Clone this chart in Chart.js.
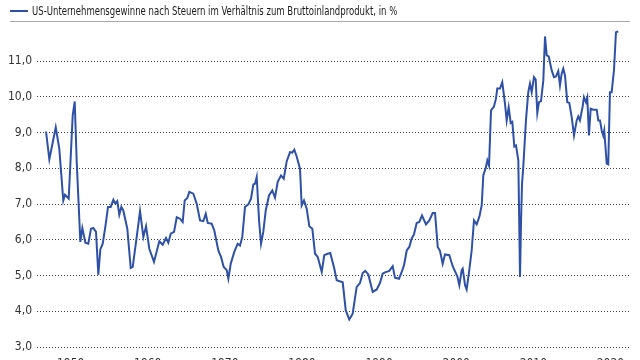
<!DOCTYPE html>
<html>
<head>
<meta charset="utf-8">
<script src="https://cdn.jsdelivr.net/npm/chart.js@4/dist/chart.umd.min.js"></script>
<style>
  html, body { margin: 0; padding: 0; background: #fff; overflow: hidden; }
  #wrap { position: relative; width: 640px; height: 372px; }
  #legend { position: absolute; left: 10px; top: 4px; font: 12px "Liberation Sans Narrow", "DejaVu Sans Condensed", sans-serif; color: #1a1a1a; white-space: nowrap; }
  #legend .swatch { display: inline-block; width: 18px; height: 2px; background: #2e51a6; vertical-align: middle; margin-right: 4px; position: relative; top: -1px; }
  #legend .text { display: inline-block; transform: scaleX(0.79); transform-origin: left center; }
  #rule { position: absolute; left: 10px; right: 10px; top: 21px; height: 1px; background: #a8a8a8; }
</style>
</head>
<body>
<div id="wrap">
  <canvas id="profitChart" width="640" height="372"></canvas>
  <div id="legend"><span class="swatch"></span><span class="text">US-Unternehmensgewinne nach Steuern im Verhältnis zum Bruttoinlandprodukt, in %</span></div>
  <div id="rule"></div>
</div>
<script>
var seriesLabel = 'US-Unternehmensgewinne nach Steuern im Verhältnis zum Bruttoinlandprodukt, in %';

var years = [
  1946.81, 1947.24, 1948.07, 1948.53, 1949.05, 1949.27, 1949.75, 1950.27, 1950.53, 1950.79,
  1951.26, 1951.52, 1951.91, 1952.29, 1952.64, 1952.94, 1953.29, 1953.59, 1953.85, 1954.16,
  1954.50, 1954.85, 1955.20, 1955.54, 1955.80, 1956.05, 1956.31, 1956.57, 1956.83, 1957.35,
  1957.79, 1958.05, 1958.57, 1959.00, 1959.43, 1959.78, 1960.20, 1960.81, 1961.50, 1961.94,
  1962.37, 1962.67, 1962.98, 1963.41, 1963.76, 1964.18, 1964.53, 1964.79, 1965.13, 1965.39,
  1965.91, 1966.35, 1966.78, 1967.20, 1967.52, 1967.78, 1968.29, 1968.63, 1969.15, 1969.50,
  1969.85, 1970.24, 1970.45, 1970.76, 1971.22, 1971.66, 1971.96, 1972.26, 1972.61, 1973.04,
  1973.39, 1973.69, 1973.91, 1974.13, 1974.43, 1974.69, 1974.98, 1975.30, 1975.72, 1976.15,
  1976.50, 1976.85, 1977.28, 1977.63, 1978.02, 1978.45, 1978.74, 1979.00, 1979.31, 1979.74,
  1979.96, 1980.26, 1980.61, 1980.95, 1981.34, 1981.69, 1982.04, 1982.56, 1982.89, 1983.33,
  1983.67, 1984.19, 1984.50, 1985.28, 1985.67, 1986.13, 1986.57, 1987.09, 1987.52, 1987.87,
  1988.21, 1988.60, 1989.17, 1989.69, 1990.11, 1990.46, 1990.76, 1991.32, 1991.76, 1992.06,
  1992.58, 1992.93, 1993.23, 1993.58, 1993.91, 1994.22, 1994.52, 1994.87, 1995.21, 1995.56,
  1996.08, 1996.51, 1996.95, 1997.25, 1997.60, 1997.89, 1998.24, 1998.54, 1999.10, 1999.54,
  2000.14, 2000.40, 2000.71, 2000.84, 2001.14, 2001.35, 2001.69, 2002.00, 2002.30, 2002.65,
  2002.99, 2003.30, 2003.51, 2003.86, 2004.03, 2004.25, 2004.51, 2004.89, 2005.15, 2005.32,
  2005.67, 2005.97, 2006.32, 2006.54, 2006.80, 2007.06, 2007.27, 2007.53, 2007.75, 2008.05,
  2008.27, 2008.40, 2008.53, 2008.69, 2009.04, 2009.34, 2009.56, 2009.78, 2010.08, 2010.30,
  2010.51, 2010.73, 2010.99, 2011.29, 2011.51, 2011.73, 2011.99, 2012.38, 2012.67, 2012.93,
  2013.23, 2013.45, 2013.67, 2013.88, 2014.10, 2014.40, 2014.66, 2014.97, 2015.27, 2015.62,
  2015.82, 2016.04, 2016.39, 2016.56, 2016.82, 2016.99, 2017.21, 2017.43, 2017.77, 2018.21,
  2018.42, 2018.64, 2018.86, 2019.06, 2019.19, 2019.51, 2019.71, 2019.93, 2020.15, 2020.45,
  2020.71, 2021.01
];

var profitShare = [
  9.03, 8.25, 9.15, 8.55, 7.10, 7.26, 7.15, 9.48, 9.87, 8.18,
  5.94, 6.33, 5.92, 5.89, 6.31, 6.33, 6.22, 5.02, 5.73, 5.89,
  6.36, 6.92, 6.92, 7.12, 7.01, 7.08, 6.70, 6.92, 6.82, 6.31,
  5.21, 5.24, 6.08, 6.80, 6.08, 6.38, 5.75, 5.38, 5.96, 5.86,
  6.05, 5.92, 6.17, 6.22, 6.63, 6.59, 6.50, 7.10, 7.17, 7.34,
  7.29, 7.01, 6.54, 6.52, 6.73, 6.47, 6.45, 6.26, 5.70, 5.52,
  5.24, 5.15, 4.91, 5.33, 5.66, 5.89, 5.84, 6.08, 6.92, 6.99,
  7.15, 7.55, 7.57, 7.76, 6.54, 5.89, 6.22, 6.82, 7.24, 7.38,
  7.18, 7.62, 7.80, 7.71, 8.20, 8.45, 8.44, 8.52, 8.33, 7.99,
  6.96, 7.10, 6.87, 6.38, 6.31, 5.61, 5.52, 5.10, 5.57, 5.61,
  5.63, 5.19, 4.87, 4.81, 4.03, 3.77, 3.93, 4.68, 4.79, 5.07,
  5.13, 5.03, 4.54, 4.61, 4.79, 5.05, 5.09, 5.13, 5.26, 4.94,
  4.91, 5.10, 5.29, 5.70, 5.80, 6.03, 6.15, 6.47, 6.50, 6.68,
  6.43, 6.54, 6.75, 6.75, 5.80, 5.69, 5.33, 5.59, 5.57, 5.26,
  4.98, 4.73, 5.15, 5.19, 4.73, 4.61, 5.15, 5.70, 6.54, 6.43,
  6.64, 6.96, 7.80, 8.04, 8.22, 8.08, 9.62, 9.73, 9.95, 10.23,
  10.23, 10.41, 9.81, 9.34, 9.71, 9.27, 9.30, 8.61, 8.64, 8.22,
  4.96, 6.50, 7.57, 8.04, 9.34, 10.13, 10.37, 10.13, 10.55, 10.48,
  9.55, 9.85, 9.88, 10.46, 11.69, 11.16, 11.13, 10.74, 10.55, 10.57,
  10.72, 10.32, 10.65, 10.79, 10.60, 9.85, 9.83, 9.43, 8.92, 9.34,
  9.45, 9.34, 9.73, 9.99, 9.85, 9.98, 8.92, 9.67, 9.64, 9.64,
  9.34, 9.34, 9.06, 8.92, 9.06, 8.13, 8.11, 10.13, 10.13, 10.74,
  11.81, 11.83
];

var xTickYears = [1950, 1960, 1970, 1980, 1990, 2000, 2010, 2020];
var yTickValues = [3, 4, 5, 6, 7, 8, 9, 10, 11];

var points = years.map(function(yr, i) {
    return { x: yr, y: profitShare[i] };
});

var tickFont = { family: '"Liberation Sans Narrow", "DejaVu Sans Condensed", sans-serif', size: 12 };

new Chart(document.getElementById('profitChart'), {
    type: 'line',
    data: {
        datasets: [{
            label: seriesLabel,
            data: points,
            borderColor: '#2e51a6',
            borderWidth: 2,
            pointRadius: 0,
            tension: 0,
            fill: false
        }]
    },
    options: {
        responsive: false,
        animation: false,
        layout: { padding: { top: 20, right: 11, left: 0, bottom: 0 } },
        plugins: {
            legend: { display: false },
            tooltip: { enabled: false }
        },
        scales: {
            x: {
                type: 'linear',
                min: 1945.64,
                max: 2022.40,
                afterBuildTicks: function(axis) {
                    axis.ticks = xTickYears.map(function(v) { return { value: v }; });
                },
                afterFit: function(axis) { axis.height = 25; },
                grid: { display: false, drawTicks: false },
                border: { display: false },
                ticks: {
                    padding: 10,
                    maxRotation: 0,
                    color: '#333',
                    font: tickFont,
                    callback: function(v) { return String(v); }
                }
            },
            y: {
                min: 3,
                max: 12.15,
                afterBuildTicks: function(axis) {
                    axis.ticks = yTickValues.map(function(v) { return { value: v }; });
                },
                afterFit: function(axis) { axis.width = 37; },
                grid: {
                    color: '#444',
                    lineWidth: 1,
                    drawTicks: false
                },
                border: { display: false, dash: [1, 2] },
                ticks: {
                    padding: 5,
                    color: '#333',
                    font: tickFont,
                    callback: function(v) { return v.toFixed(1).replace('.', ','); }
                }
            }
        }
    }
});
</script>
</body>
</html>
